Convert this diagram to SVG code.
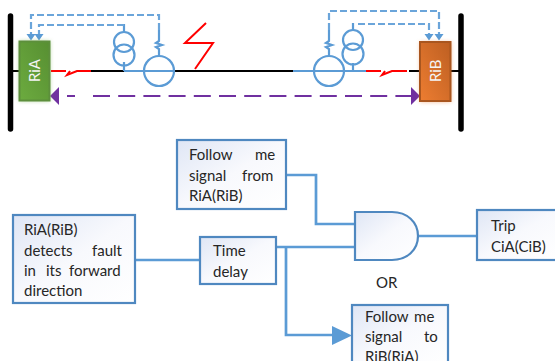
<svg xmlns="http://www.w3.org/2000/svg" width="555" height="361" viewBox="0 0 555 361">
<style>
.t{font-family:"Lato","Liberation Sans",sans-serif;font-size:15px;fill:#262626}
.r{font-family:"Lato","Liberation Sans",sans-serif;font-size:15px;fill:#f4f4f4}
.b{fill:url(#pale);stroke:#4f88c0;stroke-width:2.200}
.c{fill:none;stroke:#5b9bd5;stroke-width:2.700}
.thin{fill:none;stroke:#5b9bd5;stroke-width:2.200}
.d{fill:none;stroke:#6ba5da;stroke-width:2.200;stroke-dasharray:7 3}
.k{fill:none;stroke:#000;stroke-width:2}
.red{fill:none;stroke:#f00;stroke-width:2}
.bar{fill:none;stroke:#000;stroke-width:5.500;stroke-linecap:round}
.p{fill:none;stroke:#7030a0;stroke-width:2.200;stroke-dasharray:17 8.200}
</style>
<defs>
<linearGradient id="pale" x1="0" y1="0" x2="1" y2="1"><stop offset="0" stop-color="#dfe6f5"/><stop offset="0.5" stop-color="#f8f9fd"/><stop offset="1" stop-color="#fff"/></linearGradient>
<linearGradient id="gr" x1="0" y1="1" x2="1" y2="0"><stop offset="0" stop-color="#6cab3f"/><stop offset="1" stop-color="#578f32"/></linearGradient>
<linearGradient id="or" x1="0" y1="1" x2="1" y2="0"><stop offset="0" stop-color="#ed7d31"/><stop offset="1" stop-color="#bd5f22"/></linearGradient>
<filter id="glow" x="-30%" y="-20%" width="160%" height="140%"><feGaussianBlur stdDeviation="2"/></filter>
</defs>
<g id="connectors">
<path class="k" d="M13,71H19M91,71H124M174,71H293M409,71H420M451,71H461"/>
<path class="red" d="M51,71H66M70,71L67,75L77,71H91M366,71H381M385,71L382,75L392,71H407"/>
<path class="thin" d="M124,71H174M293,71H366M124,62V71M353,63V71M124,24V32M353,23V30M159,56V49L156,47L162,45L156,43L159,41V30M329,56V49L326,47L332,45L326,43L329,41V30"/>
<path class="d" d="M124,25H39V34"/>
<path class="d" d="M159,30V15H31V34"/>
<path class="d" d="M358,24H429V34"/>
<path class="d" d="M329,30V11H439V34"/>
<path d="M26.500,34L31,40.500L35.500,34ZM34.500,34L39,40.500L43.500,34ZM424.500,34L429,40.500L433.500,34ZM434.500,34L439,40.500L443.500,34Z" fill="#5b9bd5"/>
<path class="p" d="M93,96H411M67,96H75"/>
<path d="M50,96L59,87V105Z" fill="#7030a0"/>
<path d="M420,96L411,87V105Z" fill="#7030a0"/>
<path fill="none" stroke="#f00" stroke-width="2" d="M206,23L185,43H213L195,69"/>
<path class="c" d="M287,175H316V224H355M135,260H200M276,247H355M286,247V335H335M418,236H477"/>
<path d="M332,326L352,335.500L332,345Z" fill="#5b9bd5"/>
</g>
<g id="busbar-a"><path class="bar" d="M10.500,16V129"/></g>
<g id="busbar-b"><path class="bar" d="M461,16V129"/></g>
<g id="ria">
<rect x="19" y="41" width="31" height="60" fill="#70ad47" opacity="0.5" filter="url(#glow)"/>
<rect x="19.500" y="41.500" width="30" height="59" fill="url(#gr)" stroke="#5d8f3c" stroke-width="2"/>
<text class="r" transform="translate(40,82) rotate(-90)">RiA</text>
</g>
<g id="rib">
<rect x="420" y="42" width="31" height="60" fill="#ed7d31" opacity="0.5" filter="url(#glow)"/>
<rect x="420" y="42" width="30.500" height="59" fill="url(#or)" stroke="#a9561f" stroke-width="2"/>
<text class="r" transform="translate(441,82) rotate(-90)">RiB</text>
</g>
<g id="ct-left"><circle class="thin" cx="124" cy="42" r="10"/><circle class="thin" cx="124" cy="55" r="10.500"/><circle class="thin" cx="159" cy="71" r="15"/></g>
<g id="ct-right"><circle class="thin" cx="353" cy="40" r="10"/><circle class="thin" cx="353" cy="54" r="10.500"/><circle class="thin" cx="329" cy="71" r="15"/></g>
<g id="follow-from">
<rect class="b" x="177" y="140" width="109" height="69"/>
<text class="t" x="189" y="160">Follow</text><text class="t" x="255" y="160">me</text>
<text class="t" x="189" y="181">signal</text><text class="t" x="242" y="181">from</text>
<text class="t" x="189" y="201">RiA(RiB)</text>
</g>
<g id="detects">
<rect class="b" x="13" y="215" width="122" height="88"/>
<text class="t" x="24" y="235">RiA(RiB)</text>
<text class="t" x="24" y="256">detects</text><text class="t" x="92" y="256">fault</text>
<text class="t" x="24" y="276">in</text><text class="t" x="46" y="276">its</text><text class="t" x="69" y="276">forward</text>
<text class="t" x="24" y="296">direction</text>
</g>
<g id="time-delay">
<rect class="b" x="200" y="237" width="76" height="47"/>
<text class="t" x="213" y="256">Time</text>
<text class="t" x="213" y="277">delay</text>
</g>
<g id="and-gate">
<path d="M355,212H392C407,212 418,222 418,236C418,250 407,260 392,260H355Z" fill="url(#pale)" stroke="#4f88c0" stroke-width="2.200"/>
</g>
<g id="trip">
<rect class="b" x="477" y="210" width="80" height="50"/>
<text class="t" x="491" y="231">Trip</text>
<text class="t" x="491" y="252">CiA(CiB)</text>
</g>
<g id="or-label"><text class="t" x="376" y="288">OR</text></g>
<g id="follow-to">
<rect class="b" x="352" y="305" width="96" height="60"/>
<text class="t" x="365" y="322" word-spacing="2">Follow me</text>
<text class="t" x="365" y="342">signal</text><text class="t" x="424" y="342">to</text>
<text class="t" x="365" y="362">RiB(RiA)</text>
</g>
</svg>
